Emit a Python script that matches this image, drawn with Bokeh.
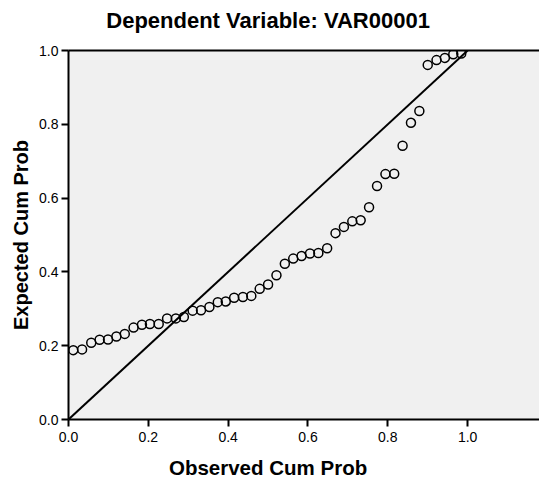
from bokeh.plotting import figure
from bokeh.models import Range1d, LinearAxis, Label, FixedTicker, PrintfTickFormatter
from bokeh.embed import file_html
from bokeh.resources import INLINE

# Observed vs expected cumulative probabilities
obs_cum_prob = [0.012, 0.034, 0.057, 0.078, 0.099, 0.120, 0.141, 0.163, 0.184, 0.204,
                0.226, 0.247, 0.269, 0.289, 0.311, 0.332, 0.353, 0.374, 0.394, 0.415,
                0.437, 0.458, 0.479, 0.500, 0.521, 0.542, 0.563, 0.584, 0.605, 0.626,
                0.648, 0.669, 0.690, 0.711, 0.732, 0.753, 0.773, 0.794, 0.816, 0.837,
                0.858, 0.879, 0.900, 0.922, 0.943, 0.964, 0.984]
exp_cum_prob = [0.188, 0.190, 0.208, 0.216, 0.217, 0.225, 0.232, 0.249, 0.257, 0.259,
                0.259, 0.274, 0.274, 0.278, 0.295, 0.296, 0.305, 0.318, 0.320, 0.330,
                0.332, 0.335, 0.354, 0.366, 0.391, 0.422, 0.436, 0.443, 0.450, 0.451,
                0.464, 0.505, 0.522, 0.537, 0.540, 0.575, 0.633, 0.665, 0.666, 0.742,
                0.804, 0.836, 0.961, 0.974, 0.980, 0.990, 0.992]
ref_line = [0.0, 1.0]
tick_values = [0.0, 0.2, 0.4, 0.6, 0.8, 1.0]

title_text = "Dependent Variable: VAR00001"
x_label = "Observed Cum Prob"
y_label = "Expected Cum Prob"

FONT = "Liberation Sans"

p = figure(width=539, height=479, output_backend="svg", toolbar_location=None,
           x_range=Range1d(0, 1.18), y_range=Range1d(0, 1.0),
           min_border_left=68, min_border_right=0, min_border_top=50, min_border_bottom=60)
p.background_fill_color = "#F0F0F0"
p.border_fill_color = "white"
p.outline_line_color = None
p.grid.visible = False

for ax in (p.xaxis[0], p.yaxis[0]):
    ax.ticker = FixedTicker(ticks=tick_values)
    ax.formatter = PrintfTickFormatter(format="%.1f")
    ax.minor_tick_line_color = None
    ax.major_tick_in = 0
    ax.major_tick_out = 7
    ax.major_tick_line_width = 2
    ax.major_tick_line_color = "black"
    ax.axis_line_width = 2
    ax.axis_line_color = "black"
    ax.major_label_text_font = FONT
    ax.major_label_text_font_size = "14px"
    ax.major_label_text_color = "black"

p.xaxis.major_label_standoff = 5
p.yaxis.major_label_standoff = 3

p.yaxis.axis_label = y_label
p.yaxis.axis_label_text_font = FONT
p.yaxis.axis_label_text_font_style = "bold"
p.yaxis.axis_label_text_font_size = "20px"
p.yaxis.axis_label_text_color = "black"
p.yaxis.axis_label_standoff = 4

top_axis = LinearAxis(ticker=FixedTicker(ticks=[]), major_label_text_font_size="0px",
                      major_tick_line_color=None, minor_tick_line_color=None,
                      axis_line_width=2, axis_line_color="black")
p.add_layout(top_axis, "above")

p.add_layout(Label(x=0.5, y=1.0813, text=title_text, text_align="center",
                   text_baseline="alphabetic", text_font=FONT, text_font_style="bold",
                   text_font_size="22px", text_color="black"), "above")
p.add_layout(Label(x=0.5, y=-0.1301, text=x_label, text_align="center",
                   text_baseline="alphabetic", text_font=FONT, text_font_style="bold",
                   text_font_size="20.5px", text_color="black"), "below")

p.line(ref_line, ref_line, line_color="black", line_width=2)
p.scatter(obs_cum_prob, exp_cum_prob, marker="circle", size=9, fill_color=None,
          line_color="black", line_width=1.5)

open("out.html", "w").write(file_html(p, INLINE))
